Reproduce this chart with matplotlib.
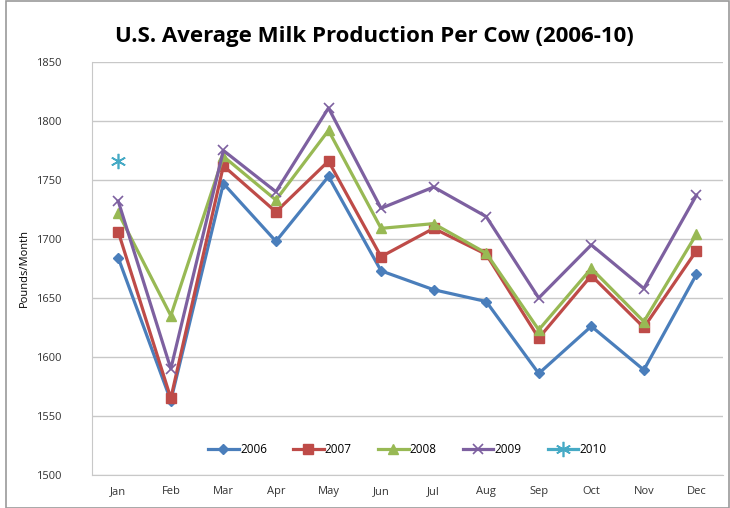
import matplotlib.pyplot as plt
from matplotlib.patches import Rectangle

months = ['Jan', 'Feb', 'Mar', 'Apr', 'May', 'Jun', 'Jul', 'Aug', 'Sep', 'Oct', 'Nov', 'Dec']
y2006 = [1684, 1563, 1747, 1698, 1753, 1673, 1657, 1647, 1586, 1626, 1589, 1670]
y2007 = [1706, 1565, 1762, 1723, 1766, 1685, 1709, 1687, 1616, 1669, 1625, 1690]
y2008 = [1722, 1635, 1770, 1733, 1792, 1709, 1713, 1688, 1623, 1675, 1630, 1704]
y2009 = [1732, 1590, 1775, 1740, 1811, 1726, 1744, 1719, 1650, 1695, 1658, 1737]
y2010 = [1766]

plt.rcParams['font.family'] = ['Open Sans', 'DejaVu Sans']

fig = plt.figure(figsize=(7.3, 5.08), dpi=100)
ax = fig.add_axes([0.126, 0.065, 0.864, 0.813])

x = list(range(len(months)))
ax.plot(x, y2006, color='#4a7ebb', marker='D', ms=5, lw=2.3, label='2006')
ax.plot(x, y2007, color='#be4b48', marker='s', ms=7, lw=2.3, label='2007')
ax.plot(x, y2008, color='#98b954', marker='^', ms=7, lw=2.3, label='2008')
ax.plot(x, y2009, color='#7d60a0', marker='x', ms=7, mew=1.2, lw=2.3, label='2009')
ax.plot(x[:len(y2010)], y2010, color='#46aac5', marker=(6, 2, 0), ms=11, mew=1.2,
        lw=2.3, label='2010')

ax.set_xlim(-0.5, 11.5)
ax.set_ylim(1500, 1850)
ax.set_yticks(range(1500, 1851, 50))
ax.set_xticks(x)
ax.set_xticklabels(months)
ax.tick_params(length=0, labelsize=8, colors='#333333', pad=8)
ax.tick_params(axis='y', pad=22)
ax.grid(axis='y', color='#c8c8c8', lw=1)
ax.set_axisbelow(True)
for s in ['top', 'right']:
    ax.spines[s].set_visible(False)
for s in ['left', 'bottom']:
    ax.spines[s].set_color('#c8c8c8')
ax.set_ylabel('Pounds/Month', fontsize=8, labelpad=4)

ax.legend(loc='lower center', bbox_to_anchor=(0.5, 0.02), ncol=5, frameon=False,
          fontsize=8.5, handlelength=2.6, columnspacing=2.2, handletextpad=0.1)

fig.text(0.513, 0.929, 'U.S. Average Milk Production Per Cow (2006-10)',
         ha='center', va='center', fontsize=16, fontweight='bold')

fig.patches.append(Rectangle((0.008, 0.0), 0.99, 0.998, transform=fig.transFigure,
                             fill=False, ec='#9a9a9a', lw=1.2))

fig.savefig('out.png', dpi=100)
